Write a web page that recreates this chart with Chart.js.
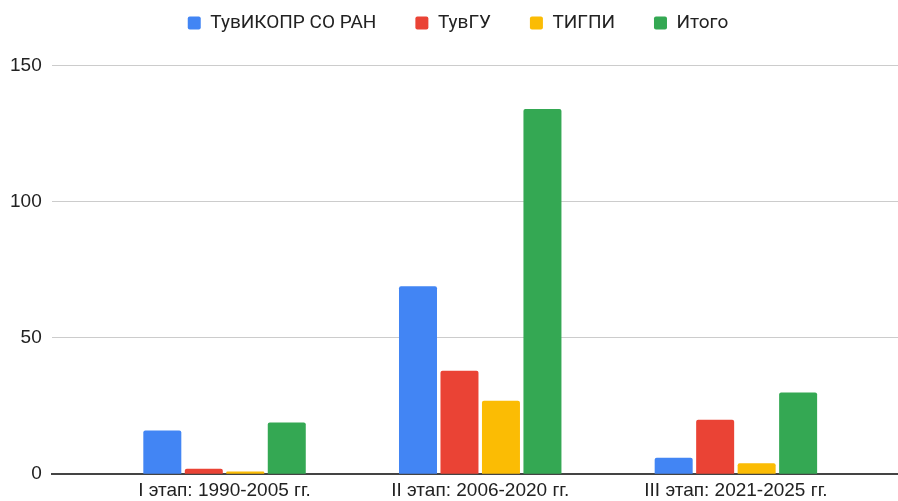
<!DOCTYPE html>
<html>
<head>
<meta charset="utf-8">
<script src="https://cdn.jsdelivr.net/npm/chart.js@4"></script>
<style>
  html, body { margin: 0; padding: 0; background: #fff; }
  #wrap { width: 898px; height: 501px; }
</style>
</head>
<body>
<div id="wrap"><canvas id="chart"></canvas></div>
<script>
// --- Data ---
const stages = ['I этап: 1990-2005 гг.', 'II этап: 2006-2020 гг.', 'III этап: 2021-2025 гг.'];
const seriesNames = ['ТувИКОПР СО РАН', 'ТувГУ', 'ТИГПИ', 'Итого'];
const tuvikopr = [16, 69, 6];
const tuvgu = [2, 38, 20];
const tigpi = [1, 27, 4];
const itogo = [19, 134, 30];
const yTicks = [0, 50, 100, 150];
const colors = ['#4285F4', '#EA4335', '#FBBC04', '#34A853'];

const LEGEND_PAD = 39;
const LEGEND_H = 91;
const LEGEND_SHIFT = 9;

const series = [tuvikopr, tuvgu, tigpi, itogo];
const datasets = series.map((vals, i) => ({
    label: seriesNames[i],
    data: vals.map((v, k) => ({ x: k, y: v })),
    backgroundColor: colors[i],
    borderRadius: { topLeft: 2, topRight: 2, bottomLeft: 0, bottomRight: 0 },
    borderSkipped: 'start',
    categoryPercentage: 0.649,
    barPercentage: 0.916
}));

// fixed legend height so the plot top lines up, nudged right a bit
const legendTweak = {
    id: 'legendTweak',
    beforeInit(chart) {
        const fit = chart.legend.fit;
        chart.legend.fit = function () {
            fit.call(this);
            this.height = LEGEND_H;
        };
    },
    afterLayout(chart) {
        chart.legend.left += LEGEND_SHIFT;
        chart.legend.right += LEGEND_SHIFT;
    }
};

new Chart(document.getElementById('chart'), {
    type: 'bar',
    data: { datasets },
    plugins: [legendTweak],
    options: {
        responsive: true,
        maintainAspectRatio: false,
        animation: false,
        layout: { padding: { left: 0, right: 0, top: -25.5, bottom: -6 } },
        plugins: {
            tooltip: { enabled: false },
            legend: {
                position: 'top',
                align: 'center',
                labels: {
                    boxWidth: 13,
                    boxHeight: 13,
                    useBorderRadius: true,
                    borderRadius: 2,
                    padding: LEGEND_PAD,
                    color: '#222',
                    font: { family: 'Roboto, "Liberation Sans", Arial, sans-serif', size: 19 }
                }
            }
        },
        scales: {
            x: {
                type: 'linear',
                min: -0.676,
                max: 2.634,
                offset: false,
                afterBuildTicks: (s) => { s.ticks = stages.map((_, i) => ({ value: i })); },
                ticks: {
                    callback: (v) => stages[v] ?? '',
                    color: '#222',
                    padding: 5,
                    maxRotation: 0,
                    autoSkip: false,
                    font: { family: '"Liberation Sans", Arial, sans-serif', size: 19 }
                },
                grid: { display: false, drawTicks: false },
                border: { display: true, color: '#444', width: 2 }
            },
            y: {
                min: 0,
                max: 150,
                afterBuildTicks: (s) => { s.ticks = yTicks.map(v => ({ value: v })); },
                ticks: {
                    color: '#222',
                    padding: 10,
                    font: { family: '"Liberation Sans", Arial, sans-serif', size: 19 }
                },
                grid: { color: '#cccccc', drawTicks: false },
                border: { display: false }
            }
        }
    }
});
</script>
</body>
</html>
